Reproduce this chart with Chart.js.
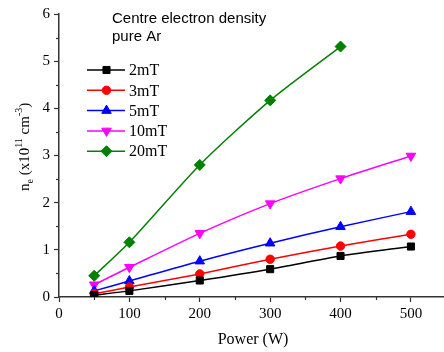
<!DOCTYPE html>
<html>
<head>
<meta charset="utf-8">
<script src="https://cdn.jsdelivr.net/npm/chart.js@4.4.1/dist/chart.umd.min.js"></script>
<style>
  html, body { margin: 0; padding: 0; background: #fff; overflow: hidden; }
</style>
</head>
<body>
<canvas id="chart" width="444" height="352"></canvas>
<script>
  // data (power in W, n_e in 1e11 cm^-3)
  var power = [50, 100, 200, 300, 400, 500];
  var power20 = [50, 100, 200, 300, 400];
  var ne2mT = [0.04, 0.13, 0.35, 0.59, 0.87, 1.07];
  var ne3mT = [0.07, 0.21, 0.49, 0.80, 1.08, 1.33];
  var ne5mT = [0.13, 0.34, 0.76, 1.14, 1.49, 1.81];
  var ne10mT = [0.26, 0.63, 1.35, 1.98, 2.51, 2.99];
  var ne20mT = [0.45, 1.16, 2.80, 4.17, 5.31];

  var seriesNames = ['2mT', '3mT', '5mT', '10mT', '20mT'];
  var seriesColors = ['#000000', '#ff0000', '#0000ff', '#ff00ff', '#008000'];
  var markerStyles = ['rect', 'circle', 'triangle', 'triangle', 'rectRot'];
  var markerRotation = [0, 0, 0, 180, 0];
  var markerRadius = [5, 4.2, 5.5, 5.5, 5.5];

  var xTicks = [0, 100, 200, 300, 400, 500];
  var yTicks = [0, 1, 2, 3, 4, 5, 6];

  var serif = "'Liberation Serif', 'Times New Roman', serif";
  var sans = "'Liberation Sans', Arial, sans-serif";

  Chart.defaults.font.family = serif;
  Chart.defaults.color = '#000';

  function toPoints(xs, ys) {
    var pts = [];
    for (var i = 0; i < ys.length; i++) pts.push({ x: xs[i], y: ys[i] });
    return pts;
  }

  var allSeries = [
    toPoints(power, ne2mT),
    toPoints(power, ne3mT),
    toPoints(power, ne5mT),
    toPoints(power, ne10mT),
    toPoints(power20, ne20mT)
  ];

  var datasets = allSeries.map(function (pts, i) {
    return {
      label: seriesNames[i],
      data: pts,
      showLine: true,
      borderColor: seriesColors[i],
      backgroundColor: seriesColors[i],
      borderWidth: 1.5,
      tension: 0.25,
      pointStyle: markerStyles[i],
      rotation: markerRotation[i],
      pointRadius: markerRadius[i],
      pointBorderWidth: 1,
      pointBorderColor: seriesColors[i],
      pointBackgroundColor: seriesColors[i]
    };
  });

  // minor ticks, axis titles, in-plot legend and note
  var extras = {
    id: 'extras',
    afterDraw: function (chart) {
      var ctx = chart.ctx;
      var xs = chart.scales.x, ys = chart.scales.y;
      var area = chart.chartArea;
      ctx.save();
      ctx.strokeStyle = '#333';
      ctx.lineWidth = 1.2;
      for (var v = 50; v < xs.max; v += 100) {
        var px = Math.round(xs.getPixelForValue(v)) + 0.5;
        ctx.beginPath();
        ctx.moveTo(px, area.bottom);
        ctx.lineTo(px, area.bottom + 3);
        ctx.stroke();
      }
      for (var w = 0.5; w < ys.max; w += 1) {
        var py = Math.round(ys.getPixelForValue(w)) + 0.5;
        ctx.beginPath();
        ctx.moveTo(area.left - 3, py);
        ctx.lineTo(area.left, py);
        ctx.stroke();
      }

      // x title
      ctx.fillStyle = '#000';
      ctx.font = '16px ' + serif;
      ctx.textAlign = 'center';
      ctx.textBaseline = 'middle';
      ctx.fillText('Power (W)', 253, 340);

      // y title with sub/superscripts
      ctx.save();
      ctx.translate(29, 191);
      ctx.rotate(-Math.PI / 2);
      ctx.textAlign = 'left';
      ctx.textBaseline = 'alphabetic';
      var parts = [
        ['n', 15, 0], ['e', 10, 4], [' (x10', 15, 0], ['11', 10, -7],
        [' cm', 15, 0], ['-3', 10, -7], [')', 15, 0]
      ];
      var cx = 0;
      parts.forEach(function (p) {
        ctx.font = p[1] + 'px ' + serif;
        ctx.fillText(p[0], cx, p[2]);
        cx += ctx.measureText(p[0]).width;
      });
      ctx.restore();

      // note
      ctx.font = '15px ' + sans;
      ctx.textAlign = 'left';
      ctx.textBaseline = 'middle';
      ctx.fillText('Centre electron density', 112, 19);
      ctx.fillText('pure Ar', 112, 37);

      // legend
      for (var i = 0; i < seriesNames.length; i++) {
        var ly = 70 + i * 20.3;
        ctx.strokeStyle = seriesColors[i];
        ctx.fillStyle = seriesColors[i];
        ctx.lineWidth = 1.5;
        ctx.beginPath();
        ctx.moveTo(87, ly);
        ctx.lineTo(125, ly);
        ctx.stroke();
        ctx.lineWidth = 1;
        Chart.helpers.drawPoint(ctx, {
          pointStyle: markerStyles[i],
          rotation: markerRotation[i],
          radius: markerRadius[i],
          borderWidth: 1
        }, 106.5, ly);
        ctx.fillStyle = '#000';
        ctx.font = '16px ' + serif;
        ctx.fillText(seriesNames[i], 129, ly + 1);
      }
      ctx.restore();
    }
  };

  new Chart(document.getElementById('chart').getContext('2d'), {
    type: 'scatter',
    data: { datasets: datasets },
    options: {
      responsive: false,
      devicePixelRatio: 1,
      animation: false,
      layout: { autoPadding: false, padding: { top: 14, right: 0, left: 0, bottom: 0 } },
      plugins: { legend: { display: false }, tooltip: { enabled: false } },
      scales: {
        x: {
          type: 'linear',
          min: 0,
          max: 547,
          afterFit: function (s) { s.height = 55; s.paddingRight = 0; s.paddingLeft = 0; },
          afterBuildTicks: function (s) {
            s.ticks = xTicks.map(function (v) { return { value: v }; });
          },
          ticks: { color: '#000', font: { family: serif, size: 15 }, padding: 3, maxRotation: 0 },
          grid: { drawOnChartArea: false, tickLength: 5, tickColor: '#333', tickWidth: 1.2 },
          border: { color: '#333', width: 1.5 }
        },
        y: {
          min: 0,
          max: 6,
          afterFit: function (s) { s.width = 59; },
          afterBuildTicks: function (s) {
            s.ticks = yTicks.map(function (v) { return { value: v }; });
          },
          ticks: { color: '#000', font: { family: serif, size: 15 }, padding: 4 },
          grid: { drawOnChartArea: false, tickLength: 5, tickColor: '#333', tickWidth: 1.2 },
          border: { color: '#333', width: 1.5 }
        }
      }
    },
    plugins: [extras]
  });
</script>
</body>
</html>
